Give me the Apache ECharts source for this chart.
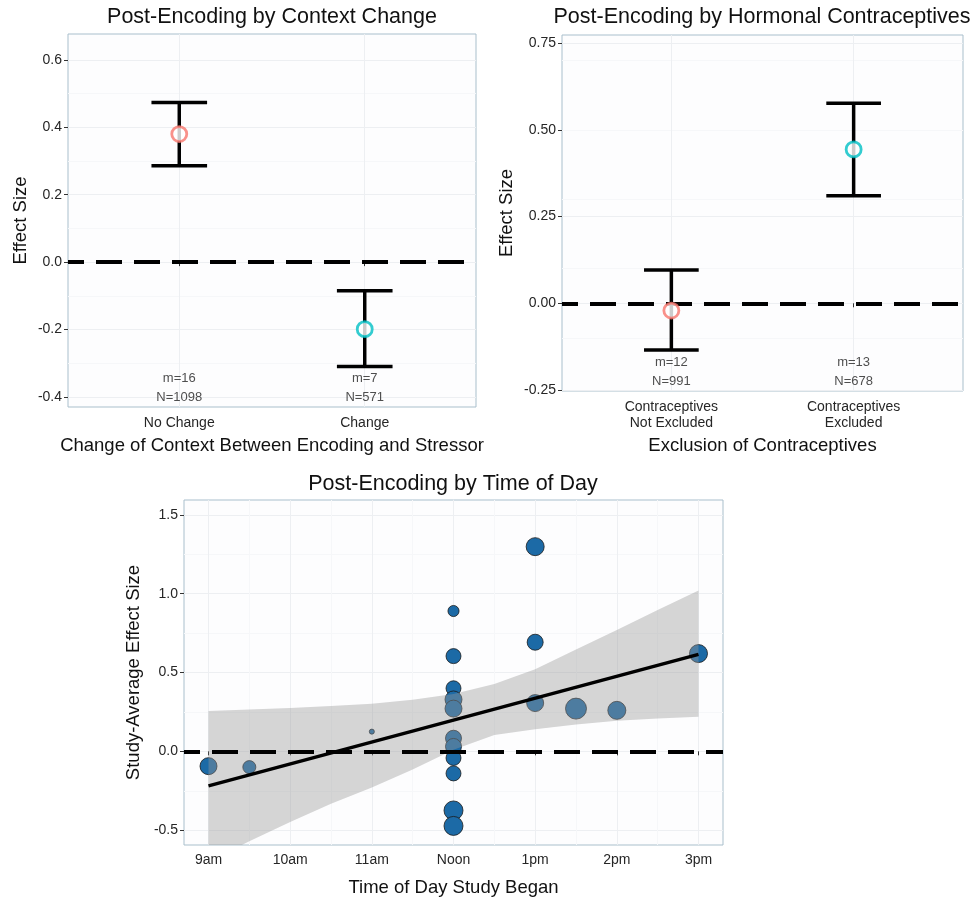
<!DOCTYPE html>
<html>
<head>
<meta charset="utf-8">
<script src="https://cdn.jsdelivr.net/npm/echarts@6/dist/echarts.min.js"></script>
<style>
  html, body { margin: 0; background: #fff; }
  #chart { width: 973px; height: 898px; }
</style>
</head>
<body>
<div id="chart"></div>
<script>
// top left: context change
const contextCats = ['No Change', 'Change'];
const contextEst = [0.38, -0.199];
const contextLow = [0.286, -0.31];
const contextHigh = [0.474, -0.085];
const contextM = [16, 7];
const contextN = [1098, 571];

// top right: hormonal contraceptives
const hormoneCats = ['Contraceptives\nNot Excluded', 'Contraceptives\nExcluded'];
const hormoneEst = [-0.021, 0.444];
const hormoneLow = [-0.135, 0.31];
const hormoneHigh = [0.096, 0.577];
const hormoneM = [12, 13];
const hormoneN = [991, 678];

// bottom: time of day (hour of day, 24h)
const timeTicks = [9, 10, 11, 12, 13, 14, 15];
const timeTickLabels = ['9am', '10am', '11am', 'Noon', '1pm', '2pm', '3pm'];
const studyHour = [9, 9.5, 11, 12, 12, 12, 12, 12, 12, 12, 12, 12, 12, 12, 13, 13, 13, 13.5, 14, 15];
const studyEffect = [-0.094, -0.1, 0.125, 0.89, 0.604, 0.40, 0.329, 0.271, 0.083, 0.031, -0.042, -0.14, -0.375, -0.473, 1.298, 0.692, 0.306, 0.271, 0.26, 0.62];
const studyN = [80, 47, 7, 34, 62, 62, 80, 80, 71, 71, 62, 62, 100, 100, 90, 71, 80, 122, 90, 90];
const fitHour = [9, 15];
const fitEffect = [-0.219, 0.615];
const bandHour = [9, 9.5, 10, 10.5, 11, 11.5, 12, 12.5, 13, 13.5, 14, 14.5, 15];
const bandUpper = [0.256, 0.265, 0.275, 0.287, 0.302, 0.327, 0.364, 0.427, 0.52, 0.646, 0.77, 0.896, 1.02];
const bandLower = [-0.70, -0.57, -0.448, -0.333, -0.229, -0.115, 0.01, 0.104, 0.14, 0.17, 0.194, 0.208, 0.219];

const groupColors = ['#F8766D', '#00BFC4'];
const FONT = '"Liberation Sans", Arial, sans-serif';
const tickText = { color: '#262626', fontSize: 14, fontFamily: FONT };
const nameText = { color: '#111', fontSize: 18.5, fontFamily: FONT };

const chart = echarts.init(document.getElementById('chart'));

function renderErrorBar(params, api) {
  const x = api.value(0);
  const lo = api.coord([x, api.value(1)]);
  const hi = api.coord([x, api.value(2)]);
  const half = api.size([0.3, 0])[0] / 2;
  const style = { stroke: '#000', lineWidth: 3.5 };
  return {
    type: 'group',
    children: [
      { type: 'line', shape: { x1: lo[0], y1: lo[1], x2: hi[0], y2: hi[1] }, style: style },
      { type: 'line', shape: { x1: lo[0] - half, y1: lo[1], x2: lo[0] + half, y2: lo[1] }, style: style },
      { type: 'line', shape: { x1: hi[0] - half, y1: hi[1], x2: hi[0] + half, y2: hi[1] }, style: style }
    ]
  };
}

// confidence band of the fit, drawn once as a polygon over the points
function renderBand(params, api) {
  if (params.dataIndex !== 0) return null;
  const upper = bandHour.map((h, i) => api.coord([h, bandUpper[i]]));
  const lower = bandHour.map((h, i) => api.coord([h, bandLower[i]])).reverse();
  return {
    type: 'polygon',
    shape: { points: upper.concat(lower) },
    style: { fill: 'rgba(153,153,153,0.4)' }
  };
}

const zeroLine = {
  silent: true,
  symbol: 'none',
  label: { show: false },
  lineStyle: { color: '#000', width: 4, type: [26, 12], dashOffset: 10 },
  data: [{ yAxis: 0 }]
};

function gridBox(left, top, width, height) {
  return {
    left: left, top: top, width: width, height: height,
    show: true, borderColor: '#a9bfcc', borderWidth: 1, backgroundColor: '#fdfdfe'
  };
}

function valueAxis(gridIndex, min, max, ticks, digits, extra) {
  return Object.assign({
    type: 'value', gridIndex: gridIndex, min: min, max: max,
    axisLine: { show: false },
    axisTick: { show: true, length: 4, customValues: ticks, lineStyle: { color: '#333' } },
    axisLabel: Object.assign({ customValues: ticks, margin: 6, formatter: v => v.toFixed(digits) }, tickText),
    splitLine: { show: true, lineStyle: { color: '#edeff2', width: 1 } },
    minorTick: { show: false, splitNumber: 2 },
    minorSplitLine: { show: true, lineStyle: { color: '#f6f7f9', width: 1 } },
    nameLocation: 'middle', nameTextStyle: nameText
  }, extra || {});
}

function catAxis(gridIndex, cats, name, nameGap) {
  const ticks = cats.map((c, i) => i + 1);
  return {
    type: 'value', gridIndex: gridIndex, min: 0.4, max: cats.length + 0.6,
    axisLine: { show: false },
    axisTick: { show: true, length: 4, customValues: ticks, lineStyle: { color: '#333' } },
    axisLabel: Object.assign({ customValues: ticks, margin: 8, lineHeight: 16,
      formatter: v => cats[Math.round(v) - 1] || '' }, tickText),
    splitLine: { show: true, lineStyle: { color: '#edeff2' } },
    name: name, nameLocation: 'middle', nameGap: nameGap, nameTextStyle: nameText
  };
}

function labelSeries(axisIndex, ys, ms, ns) {
  return {
    type: 'scatter', xAxisIndex: axisIndex, yAxisIndex: axisIndex,
    symbolSize: 0, silent: true, z: 6,
    data: ms.map((m, i) => [i + 1, ys]),
    label: {
      show: true, position: 'inside', color: '#222', fontSize: 13, fontFamily: FONT, lineHeight: 19,
      formatter: p => 'm=' + ms[p.dataIndex] + '\nN=' + ns[p.dataIndex]
    }
  };
}

function pointSeries(axisIndex, est) {
  return {
    type: 'scatter', xAxisIndex: axisIndex, yAxisIndex: axisIndex, z: 5,
    symbolSize: 15,
    data: est.map((v, i) => ({
      value: [i + 1, v],
      itemStyle: { color: '#fff', borderColor: groupColors[i], borderWidth: 2.8 }
    }))
  };
}

const titleFont = '21.5px ' + FONT;

const option = {
  animation: false,
  backgroundColor: '#fff',
  grid: [
    gridBox(68, 34, 408, 373),
    gridBox(562, 35, 401, 356),
    gridBox(184, 500, 539, 350)
  ],
  xAxis: [
    catAxis(0, contextCats, 'Change of Context Between Encoding and Stressor', 29),
    catAxis(1, hormoneCats, 'Exclusion of Contraceptives', 45),
    valueAxis(2, 8.7, 15.3, timeTicks, 0, {
      axisLabel: Object.assign({ customValues: timeTicks, margin: 8,
        formatter: v => timeTickLabels[timeTicks.indexOf(Math.round(v))] || '' }, tickText),
      name: 'Time of Day Study Began', nameGap: 33
    })
  ],
  yAxis: [
    valueAxis(0, -0.43, 0.677, [-0.4, -0.2, 0, 0.2, 0.4, 0.6], 1, { name: 'Effect Size', nameGap: 38 }),
    valueAxis(1, -0.253, 0.774, [-0.25, 0, 0.25, 0.5, 0.75], 2, { name: 'Effect Size', nameGap: 46 }),
    valueAxis(2, -0.594, 1.594, [-0.5, 0, 0.5, 1, 1.5], 1, { name: 'Study-Average Effect Size', nameGap: 39 })
  ],
  graphic: [
    { type: 'text', x: 272, y: 17, style: { text: 'Post-Encoding by Context Change', font: titleFont, fill: '#111', align: 'center', verticalAlign: 'middle' } },
    { type: 'text', x: 762, y: 17, style: { text: 'Post-Encoding by Hormonal Contraceptives', font: titleFont, fill: '#111', align: 'center', verticalAlign: 'middle' } },
    { type: 'text', x: 453, y: 484, style: { text: 'Post-Encoding by Time of Day', font: titleFont, fill: '#111', align: 'center', verticalAlign: 'middle' } }
  ],
  series: [
    // top left
    {
      type: 'custom', xAxisIndex: 0, yAxisIndex: 0, z: 3,
      renderItem: renderErrorBar, encode: { x: 0, y: [1, 2] },
      data: contextCats.map((c, i) => [i + 1, contextLow[i], contextHigh[i]]),
      markLine: zeroLine
    },
    pointSeries(0, contextEst),
    labelSeries(0, -0.372, contextM, contextN),
    // top right
    {
      type: 'custom', xAxisIndex: 1, yAxisIndex: 1, z: 3,
      renderItem: renderErrorBar, encode: { x: 0, y: [1, 2] },
      data: hormoneCats.map((c, i) => [i + 1, hormoneLow[i], hormoneHigh[i]]),
      markLine: zeroLine
    },
    pointSeries(1, hormoneEst),
    labelSeries(1, -0.197, hormoneM, hormoneN),
    // bottom
    {
      type: 'scatter', xAxisIndex: 2, yAxisIndex: 2, z: 2,
      data: studyHour.map((h, i) => [h, studyEffect[i], studyN[i]]),
      symbolSize: v => 1.9 * Math.sqrt(v[2]),
      itemStyle: { color: '#1c6aa6', borderColor: '#1a1a1a', borderWidth: 0.8, opacity: 1 }
    },
    {
      type: 'custom', xAxisIndex: 2, yAxisIndex: 2, z: 3, silent: true, clip: true,
      renderItem: renderBand, encode: { x: 0, y: [1, 2] },
      data: bandHour.map((h, i) => [h, bandLower[i], bandUpper[i]])
    },
    {
      type: 'line', xAxisIndex: 2, yAxisIndex: 2, z: 4, silent: true,
      symbol: 'none', lineStyle: { color: '#000', width: 3.5 },
      data: fitHour.map((h, i) => [h, fitEffect[i]]),
      markLine: zeroLine
    }
  ]
};

chart.setOption(option);
</script>
</body>
</html>
